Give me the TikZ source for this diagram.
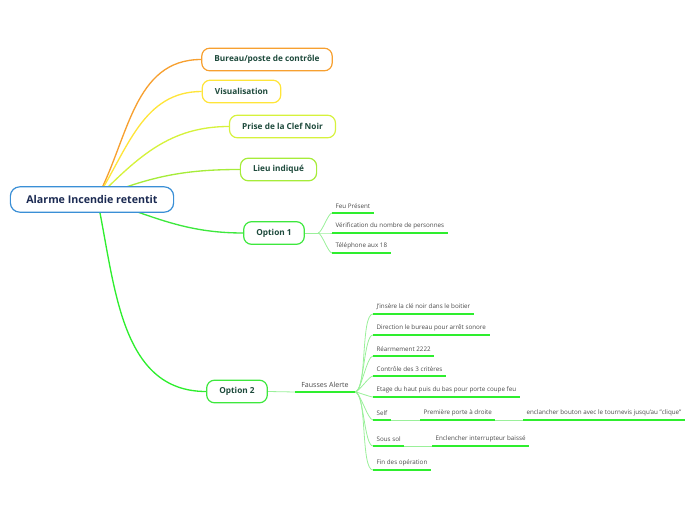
\documentclass[tikz,border=0pt]{standalone}
\usepackage{fontspec}
\setmainfont{Open Sans}
\usetikzlibrary{backgrounds}

\definecolor{rootblue}{HTML}{3A8FD6}
\definecolor{roottext}{HTML}{1B2A52}
\definecolor{boxtext}{HTML}{1E4A3C}
\definecolor{leaftext}{HTML}{4A4A4A}
\definecolor{mmorange}{HTML}{F7A030}
\definecolor{mmyellow}{HTML}{FFE53A}
\definecolor{mmlime}{HTML}{D6F23C}
\definecolor{mmlight}{HTML}{A6EC3A}
\definecolor{mmgreen}{HTML}{3DE83D}
\definecolor{uline}{HTML}{2EEE2E}
\definecolor{twigline}{HTML}{9AF09A}

\begin{document}
\begin{tikzpicture}[
  x=0.75pt, y=-0.75pt,
  rootbox/.style={draw=rootblue, line width=0.9pt, rounded corners=7pt, fill=white,
    minimum height=19pt, inner xsep=12pt, text=roottext,
    font=\fontsize{8}{9}\selectfont\bfseries},
  topicbox/.style={draw, line width=0.9pt, rounded corners=6pt, fill=white,
    minimum height=17pt, inner xsep=9.5pt, text=boxtext,
    font=\fontsize{6.2}{7}\selectfont\bfseries},
  leaf/.style={anchor=south west, inner xsep=2.5pt, inner ysep=3pt, text=leaftext,
    font=\fontsize{4.7}{5.5}\selectfont},
  branch/.style={line width=1pt},
  twig/.style={draw=twigline, line width=0.6pt, looseness=0.4},
  underline/.style={draw=uline, line width=1.1pt}
]
\useasboundingbox (0,0) rectangle (696,520);

% central topic and main topics
\node[rootbox] (root) at (92,199.5) {Alarme Incendie retentit};
\node[topicbox, draw=mmorange] (bureau) at (267,59.5) {Bureau/poste de contrôle};
\node[topicbox, draw=mmyellow] (visu) at (241.5,91.5) {Visualisation};
\node[topicbox, draw=mmlime] (clef) at (282.5,126.5) {Prise de la Clef Noir};
\node[topicbox, draw=mmlight] (lieu) at (278.5,169.5) {Lieu indiqué};
\node[topicbox, draw=mmgreen] (opt1) at (274,233) {Option 1};
\node[topicbox, draw=mmgreen] (opt2) at (237,391.5) {Option 2};
\coordinate (rootc) at (97,198);

% option 1
\coordinate (f1) at (318,233);
\node[leaf] (feu) at (332,213) {Feu Présent};
\node[leaf] (verif) at (332,233) {Vérification du nombre de personnes};
\node[leaf] (tel) at (332,253) {Téléphone aux 18};

% option 2
\node[leaf, inner xsep=4.5pt, font=\fontsize{5.3}{6}\selectfont] (fausses) at (295,392) {Fausses Alerte};
\node[leaf] (cle) at (373,314) {J'insère la clé noir dans le boitier};
\node[leaf] (direction) at (373,335) {Direction le bureau  pour arrêt sonore};
\node[leaf] (rearm) at (373,356) {Réarmement 2222};
\node[leaf] (criteres) at (373,376) {Contrôle des 3 critères};
\node[leaf] (etage) at (373,397) {Etage du haut puis du bas pour porte coupe feu};
\node[leaf] (self) at (373,420) {Self};
\node[leaf] (porte) at (420,420) {Première porte à droite};
\node[leaf] (bouton) at (523,420) {enclancher bouton avec le tournevis jusqu'au "clique"};
\node[leaf] (soussol) at (373,446) {Sous sol};
\node[leaf] (interrupteur) at (432,446) {Enclencher interrupteur baissé};
\node[leaf] (fin) at (373,470) {Fin des opération};

\begin{scope}[on background layer]
\draw[branch, mmorange] (rootc) to[out=62,in=180] (bureau.west);
\draw[branch, mmyellow] (rootc) to[out=58,in=180] (visu.west);
\draw[branch, mmlime] (rootc) to[out=45,in=180] (clef.west);
\draw[branch, mmlight] (rootc) to[out=22,in=180] (lieu.west);
\draw[branch, mmgreen] (rootc) to[out=-18,in=180] (opt1.west);
\draw[branch, uline] (rootc) to[out=-78,in=180] (opt2.west);

\draw[twig] (opt1.east) -- (f1);
\foreach \n in {feu,verif,tel}
  \draw[twig] (f1) to[out=0,in=180] (\n.south west);

\draw[twig] (opt2.east) -- (fausses.south west);
\foreach \n in {cle,direction,rearm,criteres,etage,self,soussol,fin}
  \draw[twig] (fausses.south east) to[out=0,in=180] (\n.south west);
\draw[twig] (self.south east) -- (porte.south west);
\draw[twig] (porte.south east) -- (bouton.south west);
\draw[twig] (soussol.south east) -- (interrupteur.south west);

\foreach \n in {feu,verif,tel,fausses,cle,direction,rearm,criteres,etage,self,porte,bouton,soussol,interrupteur,fin}
  \draw[underline] (\n.south west) -- (\n.south east);
\end{scope}
\end{tikzpicture}
\end{document}
